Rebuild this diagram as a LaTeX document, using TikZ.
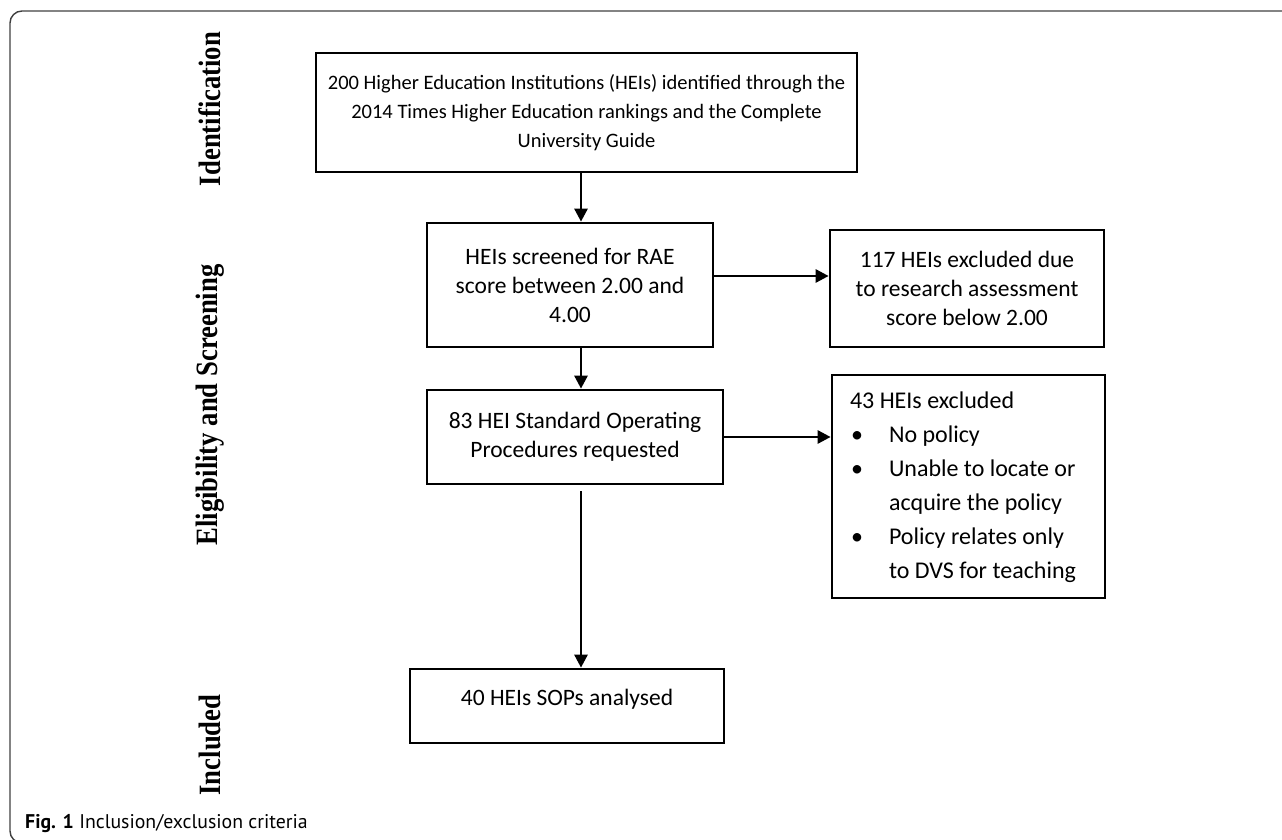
\documentclass[tikz,border=0pt]{standalone}
\usepackage{fontspec}
\setmainfont{Carlito}
\newfontfamily\boxfont{Carlito}
\newfontfamily\sidefont[FakeStretch=0.86]{Liberation Serif}
\newfontfamily\capfont{PT Sans}
\newcommand\normalspaces{\spaceskip=0pt\xspaceskip=0pt\relax}
\usetikzlibrary{arrows.meta}
\begin{document}
\begin{tikzpicture}[x=1pt,y=-1pt,
  box/.style={draw,line width=2.7pt,inner sep=0pt,align=center,
    font=\boxfont\fontsize{23.5}{29}\selectfont},
  arr/.style={line width=2.7pt,-{Triangle[width=13pt,length=13pt]}},
  side/.style={rotate=90,font=\sidefont\bfseries\fontsize{31}{33}\selectfont},
  frame/.style={draw=black!75,line width=1.4pt,rounded corners=12pt}]
\useasboundingbox (0,0) rectangle (1282,840);
\begin{scope}
\clip (0,0) rectangle (1282,840);
\draw[frame] (10,11) rectangle (1320,843);
\end{scope}
% boxes
\node[box,minimum width=541pt,minimum height=119pt,
  font=\boxfont\fontsize{20.5}{29}\selectfont] (b1) at (586.5,112.5)
  {200 Higher Education Institutions (HEIs) identified through the\\
   2014 Times Higher Education rankings and the Complete\\
   University Guide};
\node[box,minimum width=286pt,minimum height=124pt] (b2) at (570,285)
  {HEIs screened for RAE\\score between 2.00 and\\4.00};
\node[box,minimum width=274pt,minimum height=117pt] (b3) at (967,288.5)
  {117 HEIs excluded due\\to research assessment\\score below 2.00};
\node[box,minimum width=296pt,minimum height=94pt] (b4) at (575,437)
  {83 HEI Standard Operating\\Procedures requested};
\node[box,minimum width=273pt,minimum height=223pt,align=left,
  text width=237pt,inner xsep=18pt,font=\boxfont\fontsize{24}{34}\selectfont] (b5) at (968.5,486.5)
  {\normalspaces\begin{tabular}{@{}p{39pt}@{}l@{}}
   \multicolumn{2}{@{}l@{}}{43 HEIs excluded}\\
   \hspace*{1pt}\textbullet & No policy\\
   \hspace*{1pt}\textbullet & Unable to locate or\\
   & acquire the policy\\
   \hspace*{1pt}\textbullet & Policy relates only\\
   & to DVS for teaching
   \end{tabular}};
\node[box,minimum width=314pt,minimum height=74pt] (b6) at (567,706)
  {40 HEIs SOPs analysed\rule[-17pt]{0pt}{17pt}};
% side labels
\node[side] (s1) at (210,109) {Identification};
\node[side] (s2) at (210,405) {Eligibility and Screening};
\node[side] (s3) at (210,745) {Included};
% caption
\node[anchor=base west,inner sep=0pt,font=\capfont\fontsize{19.8}{23}\selectfont] (cap) at (25,828)
  {\textbf{Fig. 1} Inclusion/exclusion criteria};
% connectors
\coordinate (ax) at (581,0);
\coordinate (ay) at (0,276);
\draw[arr] (ax |- b1.south) -- (ax |- b2.north);
\draw[arr] (b2.east |- ay) -- (b3.west |- ay);
\draw[arr] (ax |- b2.south) -- (ax |- b4.north);
\draw[arr] (b4.east) -- (b5.west |- b4.east);
\draw[arr,shorten <=6pt] (ax |- b4.south) -- (ax |- b6.north);
\end{tikzpicture}
\end{document}
